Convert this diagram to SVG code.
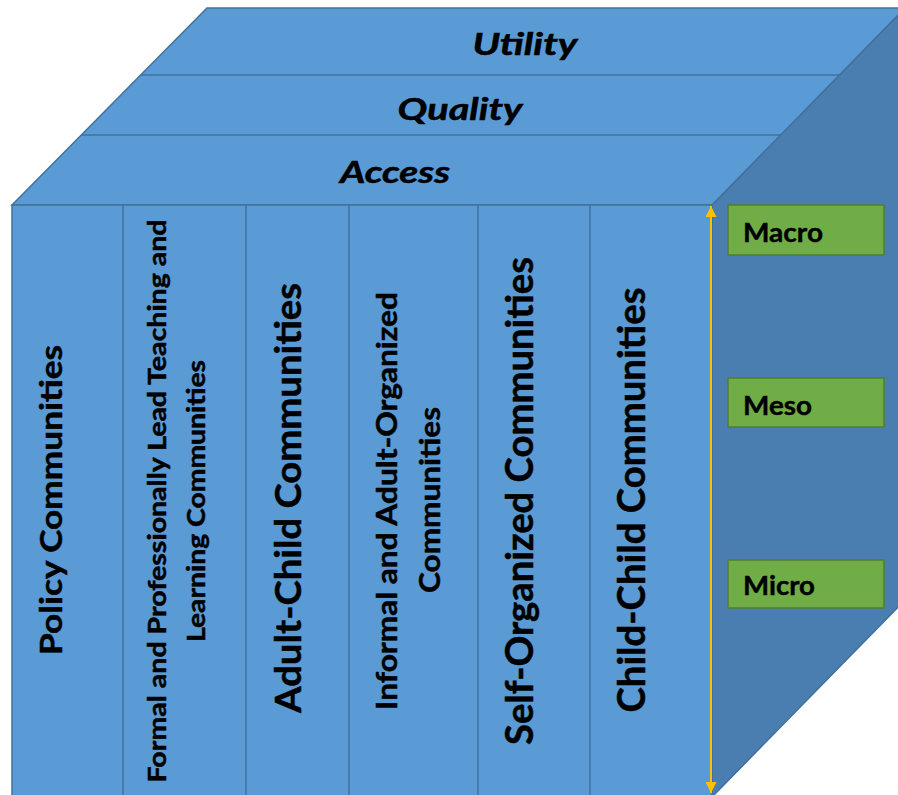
<svg xmlns="http://www.w3.org/2000/svg" width="898" height="795" viewBox="0 0 898 795">
<style>
.face{fill:#5B9BD5;stroke:#41719C;stroke-width:1.5}
.side{fill:#4A7DB0;stroke:#41719C;stroke-width:1.5}
.div{stroke:#41719C;stroke-width:1.5;fill:none}
.t{font-family:Lato,"Liberation Sans",sans-serif;font-weight:bold;fill:#000;stroke:#000;stroke-width:0.5;text-anchor:middle}
.ti{font-family:Lato,"Liberation Sans",sans-serif;font-weight:bold;font-style:italic;fill:#000;stroke:#000;stroke-width:0.5;text-anchor:middle;font-size:30px}
.lvl{fill:#70AD47;stroke:#507E32;stroke-width:1.5}
.lt{font-family:Lato,"Liberation Sans",sans-serif;font-weight:bold;fill:#000;stroke:#000;stroke-width:0.4;font-size:26px}
</style>
<defs>
<marker id="ah" viewBox="0 0 10 10" refX="10" refY="5" markerWidth="11" markerHeight="11" markerUnits="userSpaceOnUse" orient="auto-start-reverse">
<path d="M0,0 L10,5 L0,10 Z" fill="#FFC000"/>
</marker>
</defs>
<rect width="898" height="795" fill="#FFFFFF"/>
<g id="cube">
<polygon class="side" points="712,205 905,8 905,600 712,797"/>
<polygon class="face" points="12,205 207,8 905,8 712,205"/>
<rect class="face" x="12" y="205" width="700" height="592"/>
</g>
<g id="band-utility">
<text class="ti" x="525" y="55" textLength="105" lengthAdjust="spacingAndGlyphs">Utility</text>
</g>
<g id="band-quality">
<line class="div" x1="141" y1="75" x2="839" y2="75"/>
<text class="ti" x="460" y="120" textLength="125" lengthAdjust="spacingAndGlyphs">Quality</text>
</g>
<g id="band-access">
<line class="div" x1="81" y1="135" x2="781" y2="135"/>
<text class="ti" x="395" y="183" textLength="110" lengthAdjust="spacingAndGlyphs">Access</text>
</g>
<g id="col-policy">
<text class="t" transform="translate(62,500) rotate(-90)" font-size="30" textLength="310" lengthAdjust="spacingAndGlyphs">Policy Communities</text>
</g>
<g id="col-formal">
<line class="div" x1="123" y1="205" x2="123" y2="795"/>
<text class="t" transform="translate(166,501) rotate(-90)" font-size="25" textLength="563" lengthAdjust="spacingAndGlyphs">Formal and Professionally Lead Teaching and</text>
<text class="t" transform="translate(205,501) rotate(-90)" font-size="25" textLength="282" lengthAdjust="spacingAndGlyphs">Learning Communities</text>
</g>
<g id="col-adult-child">
<line class="div" x1="246" y1="205" x2="246" y2="795"/>
<text class="t" transform="translate(301,498) rotate(-90)" font-size="37" textLength="430" lengthAdjust="spacingAndGlyphs">Adult-Child Communities</text>
</g>
<g id="col-informal">
<line class="div" x1="349" y1="205" x2="349" y2="795"/>
<text class="t" transform="translate(397,501) rotate(-90)" font-size="29" textLength="418" lengthAdjust="spacingAndGlyphs">Informal and Adult-Organized</text>
<text class="t" transform="translate(440,500) rotate(-90)" font-size="29" textLength="186" lengthAdjust="spacingAndGlyphs">Communities</text>
</g>
<g id="col-self-organized">
<line class="div" x1="478" y1="205" x2="478" y2="795"/>
<text class="t" transform="translate(533,501) rotate(-90)" font-size="38" textLength="488" lengthAdjust="spacingAndGlyphs">Self-Organized Communities</text>
</g>
<g id="col-child-child">
<line class="div" x1="590" y1="205" x2="590" y2="795"/>
<text class="t" transform="translate(645,500) rotate(-90)" font-size="38" textLength="425" lengthAdjust="spacingAndGlyphs">Child-Child Communities</text>
</g>
<g id="connectors">
<line x1="711" y1="206" x2="711" y2="793" stroke="#FFC000" stroke-width="2" marker-start="url(#ah)" marker-end="url(#ah)"/>
</g>
<g id="level-macro">
<rect class="lvl" x="728" y="205" width="156" height="50"/>
<text class="lt" x="743" y="242" textLength="80" lengthAdjust="spacingAndGlyphs">Macro</text>
</g>
<g id="level-meso">
<rect class="lvl" x="728" y="378" width="156" height="49"/>
<text class="lt" x="743" y="415" textLength="69" lengthAdjust="spacingAndGlyphs">Meso</text>
</g>
<g id="level-micro">
<rect class="lvl" x="728" y="560" width="156" height="48"/>
<text class="lt" x="743" y="595" textLength="72" lengthAdjust="spacingAndGlyphs">Micro</text>
</g>
</svg>
